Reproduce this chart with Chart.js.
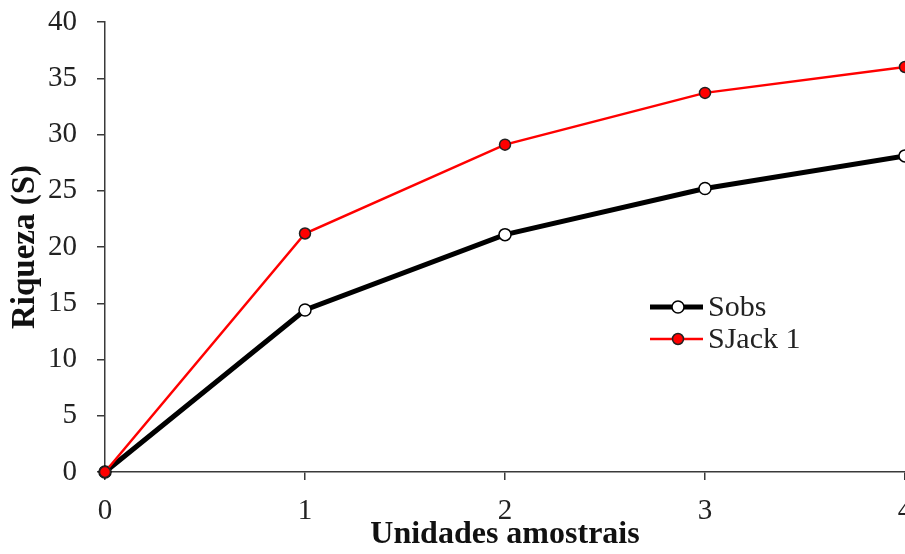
<!DOCTYPE html>
<html>
<head>
<meta charset="utf-8">
<script src="https://cdn.jsdelivr.net/npm/chart.js@4"></script>
<style>
    html, body { margin: 0; padding: 0; background: #fff; overflow: hidden; }
</style>
</head>
<body>
<canvas id="chart" width="905" height="554"></canvas>
<script>
const unidades = [0, 1, 2, 3, 4]
const sobs = [0, 14.4, 21.1, 25.2, 28.1]
const sjack1 = [0, 21.2, 29.1, 33.7, 36.0]
const yTicks = [0, 5, 10, 15, 20, 25, 30, 35, 40]

const FONT = "'Liberation Serif', 'Times New Roman', serif"
const AXIS = "#3a3a3a"

const toPoints = (vals) => vals.map((v, i) => ({ x: unidades[i], y: v }))

// legend drawn inside the plot, like the original
const insideLegend = {
    id: "insideLegend",
    afterDraw(chart) {
        const ctx = chart.ctx
        const items = [
            { label: "Sobs", line: "#000", width: 5, fill: "#fff", border: "#000", r: 6 },
            { label: "SJack 1", line: "#ff0000", width: 2.5, fill: "#ff0000", border: "#222", r: 5.5 },
        ]
        const x0 = 650
        const y0 = 307
        ctx.save()
        items.forEach((it, i) => {
            const y = y0 + i * 32
            ctx.strokeStyle = it.line
            ctx.lineWidth = it.width
            ctx.beginPath()
            ctx.moveTo(x0, y)
            ctx.lineTo(x0 + 53, y)
            ctx.stroke()
            ctx.beginPath()
            ctx.arc(x0 + 28, y, it.r, 0, Math.PI * 2)
            ctx.fillStyle = it.fill
            ctx.fill()
            ctx.lineWidth = 1.5
            ctx.strokeStyle = it.border
            ctx.stroke()
            ctx.fillStyle = "#222"
            ctx.font = "30px " + FONT
            ctx.textBaseline = "middle"
            ctx.fillText(it.label, x0 + 58, y + 1)
        })
        ctx.restore()
    },
}

new Chart(document.getElementById("chart"), {
    type: "line",
    data: {
        datasets: [
            {
                label: "SJack 1",
                data: toPoints(sjack1),
                borderColor: "#ff0000",
                backgroundColor: "#ff0000",
                borderWidth: 2.5,
                pointRadius: 5.5,
                pointBackgroundColor: "#ff0000",
                pointBorderColor: "#222",
                pointBorderWidth: 1.5,
                tension: 0,
                clip: false,
            },
            {
                label: "Sobs",
                data: toPoints(sobs),
                borderColor: "#000",
                backgroundColor: "#000",
                borderWidth: 5,
                pointRadius: 6,
                pointBackgroundColor: "#fff",
                pointBorderColor: "#000",
                pointBorderWidth: 1.5,
                tension: 0,
                clip: false,
            },
        ],
    },
    options: {
        responsive: false,
        animation: false,
        layout: {
            autoPadding: false,
            padding: { top: 22, right: 0, bottom: 0, left: 0 },
        },
        plugins: {
            legend: { display: false },
            tooltip: { enabled: false },
        },
        scales: {
            x: {
                type: "linear",
                min: 0,
                max: 4,
                offset: false,
                afterFit: (scale) => {
                    scale.paddingLeft = 0
                    scale.paddingRight = 0
                    scale.height = 82
                },
                ticks: {
                    stepSize: 1,
                    color: "#222",
                    padding: 14,
                    font: { family: FONT, size: 29 },
                },
                grid: {
                    drawOnChartArea: false,
                    drawTicks: true,
                    tickLength: 8,
                    color: AXIS,
                    lineWidth: 1.5,
                },
                border: { display: true, color: AXIS, width: 1.5 },
                title: {
                    display: true,
                    text: "Unidades amostrais",
                    color: "#111",
                    padding: { top: 0, bottom: 0 },
                    font: { family: FONT, size: 32, weight: "bold" },
                },
            },
            y: {
                min: 0,
                max: 40,
                afterBuildTicks: (axis) => {
                    axis.ticks = yTicks.map((v) => ({ value: v }))
                },
                afterFit: (scale) => {
                    scale.paddingTop = 0
                    scale.paddingBottom = 0
                    scale.width = 105
                },
                ticks: {
                    color: "#222",
                    padding: 20,
                    font: { family: FONT, size: 29 },
                },
                grid: {
                    drawOnChartArea: false,
                    drawTicks: true,
                    tickLength: 8,
                    color: AXIS,
                    lineWidth: 1.5,
                },
                border: { display: true, color: AXIS, width: 1.5 },
                title: {
                    display: true,
                    text: "Riqueza (S)",
                    color: "#111",
                    padding: { top: 6, bottom: 0 },
                    font: { family: FONT, size: 33, weight: "bold" },
                },
            },
        },
    },
    plugins: [insideLegend],
})
</script>
</body>
</html>
